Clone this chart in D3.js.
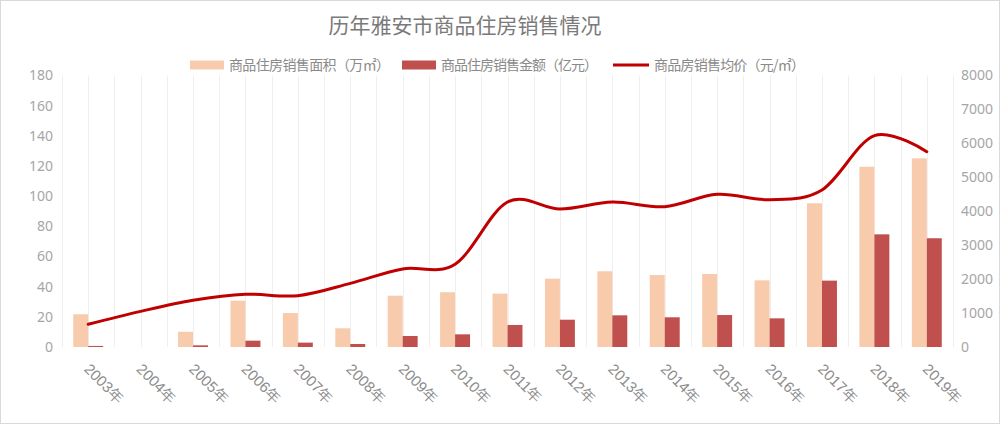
<!DOCTYPE html>
<html><head><meta charset="utf-8">
<script src="https://cdn.jsdelivr.net/npm/d3@7"></script>
<style>
html,body{margin:0;padding:0;background:#fff;}
svg{display:block;font-family:"Noto Sans CJK SC","Noto Sans",sans-serif;}
</style></head>
<body><svg id="c" width="1000" height="424"></svg>
<script>
const years = ["2003年","2004年","2005年","2006年","2007年","2008年","2009年","2010年","2011年","2012年","2013年","2014年","2015年","2016年","2017年","2018年","2019年"];
const area = [21.7, 0, 10.1, 30.7, 22.5, 12.4, 34.0, 36.3, 35.4, 45.3, 50.2, 47.7, 48.4, 44.2, 95.3, 119.5, 125.1];
const amount = [0.7, 0, 1.1, 4.2, 2.9, 2.0, 7.3, 8.4, 14.6, 18.1, 21.0, 19.7, 21.2, 19.0, 44.0, 74.7, 72.1];
const price = [670, 1050, 1376, 1553, 1513, 1876, 2300, 2440, 4273, 4067, 4273, 4135, 4500, 4341, 4627, 6230, 5755];
const leftTicks = [0,20,40,60,80,100,120,140,160,180];
const rightTicks = [0,1000,2000,3000,4000,5000,6000,7000,8000];
const seriesNames = ["商品住房销售面积（万㎡）","商品住房销售金额（亿元）","商品房销售均价（元/㎡）"];
const title = "历年雅安市商品住房销售情况";

const svg = d3.select("#c");
const L = 62, R = 953, T = 75.5, B = 347;
const x = d3.scaleBand().domain(years).range([L, R]).paddingInner(0).paddingOuter(0);
const sub = d3.scaleBand().domain(["a","m"]).range([0, x.bandwidth()]).paddingInner(0).paddingOuter(0.75);
const yL = d3.scaleLinear().domain([0,180]).range([B, T]);
const yR = d3.scaleLinear().domain([0,8000]).range([B, T]);

// border
svg.append("rect").attr("x",0.5).attr("y",0.5).attr("width",999).attr("height",423)
  .attr("fill","#fff").attr("stroke","#d9d9d9");

// vertical gridlines (major + minor)
const gx = [];
years.forEach(y => { gx.push(x(y)); gx.push(x(y) + x.bandwidth()/2); });
gx.push(R);
svg.append("g").selectAll("line").data(gx).join("line")
  .attr("x1", d => Math.round(d)+0.5).attr("x2", d => Math.round(d)+0.5)
  .attr("y1", T).attr("y2", B)
  .attr("stroke", "#efefef").attr("stroke-width", 1);

// bars
const gb = svg.append("g");
gb.selectAll(".a").data(area).join("rect")
  .attr("x", (d,i) => x(years[i]) + sub("a")).attr("width", sub.bandwidth())
  .attr("y", d => yL(d)).attr("height", d => B - yL(d))
  .attr("fill", "#f8cbad");
gb.selectAll(".m").data(amount).join("rect")
  .attr("x", (d,i) => x(years[i]) + sub("m")).attr("width", sub.bandwidth())
  .attr("y", d => yL(d)).attr("height", d => B - yL(d))
  .attr("fill", "#c0504d");

// line
const line = d3.line()
  .x((d,i) => x(years[i]) + x.bandwidth()/2)
  .y(d => yR(d))
  .curve(d3.curveCatmullRom.alpha(0));
svg.append("path").datum(price).attr("d", line)
  .attr("fill","none").attr("stroke","#c00000").attr("stroke-width",3)
  .attr("stroke-linecap","round").attr("stroke-linejoin","round");

// left axis
const axL = d3.axisLeft(yL).tickValues(leftTicks).tickSize(0).tickPadding(9);
const gL = svg.append("g").attr("transform",`translate(${L},0)`).call(axL);
gL.select(".domain").remove();
gL.selectAll("text").attr("font-size",14).attr("fill","#a6a6a6").attr("font-family","'Noto Sans','Open Sans',sans-serif");

// right axis
const axR = d3.axisRight(yR).tickValues(rightTicks).tickFormat(d3.format("d")).tickSize(0).tickPadding(8);
const gR = svg.append("g").attr("transform",`translate(${R},0)`).call(axR);
gR.select(".domain").remove();
gR.selectAll("text").attr("font-size",14).attr("fill","#a6a6a6").attr("font-family","'Noto Sans','Open Sans',sans-serif");

// x axis labels
const axX = d3.axisBottom(x).tickSize(0);
const gX = svg.append("g").attr("transform",`translate(0,${B})`).call(axX);
gX.select(".domain").remove();
gX.selectAll("text")
  .attr("font-size",15).attr("fill","#8c8c8c")
  .attr("text-anchor","start").attr("dy",null).attr("y",0)
  .attr("transform","translate(-5,23) rotate(45)");

// title
svg.append("text").attr("x",465).attr("y",33).attr("text-anchor","middle")
  .attr("font-size",21).attr("fill","#7a7a7a").text(title);

// legend
const lg = svg.append("g").attr("font-size",14).attr("fill","#8a8a8a");
const items = [
  {x:190, type:"rect", color:"#f8cbad", w:34, tl:161},
  {x:402, type:"rect", color:"#c0504d", w:34, tl:157},
  {x:613, type:"line", color:"#c00000", w:36, tl:151}
];
items.forEach((it, i) => {
  if (it.type === "rect") {
    lg.append("rect").attr("x", it.x).attr("y", 60.5).attr("width", it.w).attr("height", 9).attr("fill", it.color);
  } else {
    lg.append("line").attr("x1", it.x).attr("x2", it.x + it.w).attr("y1", 65).attr("y2", 65)
      .attr("stroke", it.color).attr("stroke-width", 3);
  }
  lg.append("text").attr("x", it.x + it.w + 5).attr("y", 70)
    .attr("textLength", it.tl).attr("lengthAdjust", "spacing").text(seriesNames[i]);
});
</script></body></html>
